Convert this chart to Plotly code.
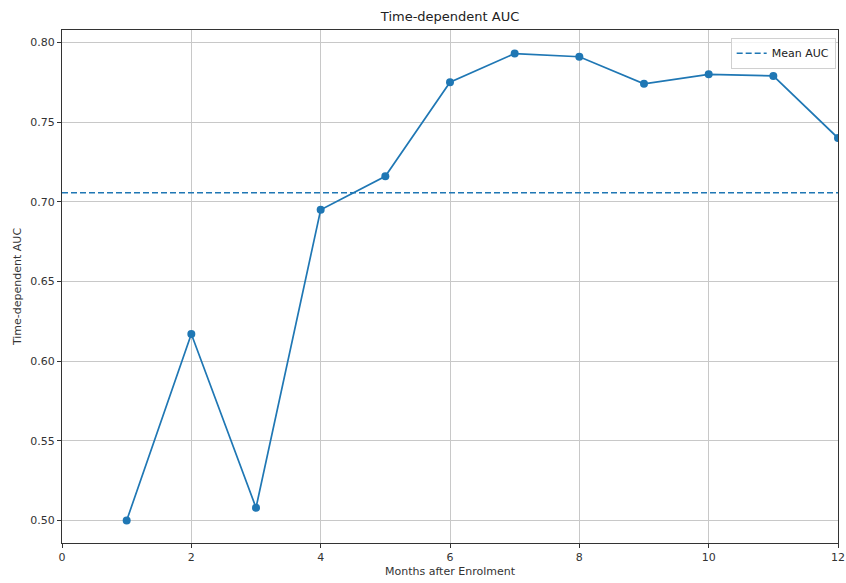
import plotly.graph_objects as go

months = [1, 2, 3, 4, 5, 6, 7, 8, 9, 10, 11, 12]
auc = [0.500, 0.617, 0.508, 0.695, 0.716, 0.775, 0.793, 0.791, 0.774, 0.780, 0.779, 0.740]
mean_auc = sum(auc) / len(auc)
x_ticks = [0, 2, 4, 6, 8, 10, 12]
y_ticks = [0.50, 0.55, 0.60, 0.65, 0.70, 0.75, 0.80]

C = "#1f77b4"
FONT = "DejaVu Sans"

fig = go.Figure()
fig.add_trace(go.Scatter(
    x=months, y=auc, mode="lines+markers",
    line=dict(color=C, width=1.7),
    marker=dict(color=C, size=8),
    showlegend=False,
))
fig.add_trace(go.Scatter(
    x=[0, 12], y=[mean_auc, mean_auc], mode="lines",
    line=dict(color=C, width=1.5, dash="6px,3px"),
    name="Mean AUC", showlegend=True,
))

axis_common = dict(
    showline=True, linecolor="#333333", linewidth=1, mirror=True,
    showgrid=True, gridcolor="#c8c8c8", gridwidth=1,
    ticks="outside", ticklen=4, tickcolor="#333333",
    tickfont=dict(family=FONT, size=11, color="#333333"),
    zeroline=False, automargin=False,
)

fig.update_layout(
    width=846, height=583,
    margin=dict(l=62, r=8, t=30, b=40),
    paper_bgcolor="white", plot_bgcolor="white",
    font=dict(family=FONT, size=11, color="#333333"),
    title=dict(text="Time-dependent AUC", x=0.532, xanchor="center", y=0.971, yanchor="middle",
               font=dict(family=FONT, size=13, color="#222222")),
    xaxis=dict(range=[0, 12], tickvals=x_ticks, ticktext=[str(v) for v in x_ticks],
               title=dict(text="Months after Enrolment", standoff=4, font=dict(size=11)),
               **axis_common),
    yaxis=dict(range=[0.4859, 0.8078], tickvals=y_ticks, ticktext=[f"{v:.2f}" for v in y_ticks],
               title=dict(text="Time-dependent AUC", standoff=6, font=dict(size=11)),
               **axis_common),
    legend=dict(x=0.997, y=0.985, xanchor="right", yanchor="top",
                bgcolor="rgba(255,255,255,0.8)", bordercolor="#d0d0d0", borderwidth=1,
                font=dict(family=FONT, size=11, color="#222222")),
)

fig.write_html("out.html", config={"displayModeBar": False},
               post_script="document.body.style.margin='0';document.body.style.overflow='hidden';")
